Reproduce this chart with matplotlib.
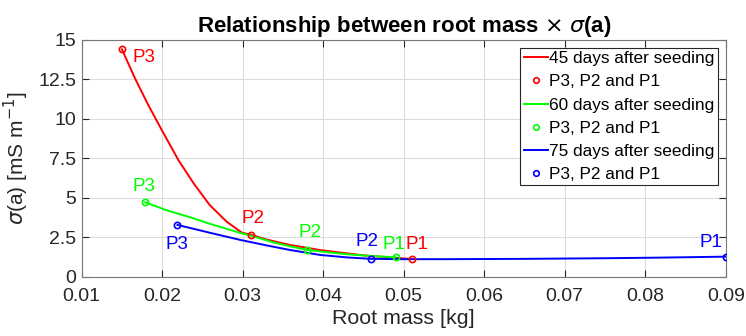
import matplotlib
matplotlib.use("Agg")
import matplotlib.pyplot as plt
from matplotlib.lines import Line2D

plt.rcParams['font.family'] = ['Liberation Sans', 'DejaVu Sans']
plt.rcParams['mathtext.fontset'] = 'dejavusans'

# measured points P3, P2, P1 for each sowing age
red_pts_x = [0.015, 0.031, 0.051]
red_pts_y = [14.41, 2.66, 1.12]
green_pts_x = [0.0179, 0.0380, 0.0490]
green_pts_y = [4.71, 1.70, 1.23]
blue_pts_x = [0.0219, 0.0460, 0.0900]
blue_pts_y = [3.28, 1.13, 1.27]

# fitted curves
red_curve_x = [0.0150, 0.01662, 0.01827, 0.01994, 0.0220, 0.0239, 0.0259, 0.0280,
               0.0299, 0.0310, 0.0330, 0.0359, 0.0396, 0.0450, 0.0510]
red_curve_y = [14.41, 12.57, 10.88, 9.30, 7.40, 5.92, 4.54, 3.49,
               2.79, 2.66, 2.35, 2.01, 1.69, 1.35, 1.12]
green_curve_x = [0.0179, 0.0205, 0.0235, 0.0265, 0.0296, 0.0320, 0.0340, 0.0360,
                 0.0380, 0.0405, 0.0430, 0.0460, 0.0490]
green_curve_y = [4.71, 4.22, 3.76, 3.26, 2.79, 2.45, 2.15, 1.91,
                 1.70, 1.55, 1.42, 1.31, 1.23]
blue_curve_x = [0.0219, 0.0258, 0.0297, 0.0330, 0.0359, 0.0396, 0.0430, 0.0460,
                0.0500, 0.0550, 0.0650, 0.0750, 0.0820, 0.0900]
blue_curve_y = [3.28, 2.80, 2.33, 1.98, 1.69, 1.38, 1.22, 1.13,
                1.11, 1.11, 1.13, 1.17, 1.21, 1.27]

point_names = ['P3', 'P2', 'P1']
red_label_xy = [(0.0163, 13.9), (0.0298, 3.69), (0.0502, 2.01)]
green_label_xy = [(0.0163, 5.72), (0.0369, 2.80), (0.0474, 2.01)]
blue_label_xy = [(0.0204, 2.01), (0.0440, 2.23), (0.0867, 2.17)]

series = [
    ('45 days after seeding', '#ff0000', red_curve_x, red_curve_y, red_pts_x, red_pts_y, red_label_xy),
    ('60 days after seeding', '#00ff00', green_curve_x, green_curve_y, green_pts_x, green_pts_y, green_label_xy),
    ('75 days after seeding', '#0000ff', blue_curve_x, blue_curve_y, blue_pts_x, blue_pts_y, blue_label_xy),
]

fig = plt.figure(figsize=(7.46, 3.36), dpi=100)
ax = fig.add_axes([0.1095, 0.1765, 0.8633, 0.7045])

handles = []
labels = []
for name, col, cx, cy, px, py, lab in series:
    ax.plot(cx, cy, color=col, lw=1.4, zorder=3)
    ax.plot(px, py, 'o', mfc='none', mec=col, ms=4.5, mew=1.2, zorder=4)
    for nm, (tx, ty) in zip(point_names, lab):
        ax.text(tx, ty, nm, color=col, fontsize=13.5, ha='left', va='center', zorder=5)
    handles.append(Line2D([], [], color=col, lw=1.4))
    labels.append(name)
    handles.append(Line2D([], [], ls='none', marker='o', mfc='none', mec=col, ms=4, mew=1.2))
    labels.append('P3, P2 and P1')

ax.set_xlim(0.01, 0.09)
ax.set_ylim(0, 15)
ax.set_xticks([0.01, 0.02, 0.03, 0.04, 0.05, 0.06, 0.07, 0.08, 0.09])
ax.set_xticklabels(['0.01', '0.02', '0.03', '0.04', '0.05', '0.06', '0.07', '0.08', '0.09'])
ax.set_yticks([0, 2.5, 5, 7.5, 10, 12.5, 15])
ax.set_yticklabels(['0', '2.5', '5', '7.5', '10', '12.5', '15'])
ax.grid(True, color='#dcdcdc', lw=0.8)
ax.set_axisbelow(True)
ax.tick_params(direction='in', top=True, right=True, length=5, width=0.8,
               labelsize=14, colors='#262626')
ax.tick_params(axis='x', pad=8)
ax.tick_params(axis='y', pad=4)
for sp in ax.spines.values():
    sp.set_color('#777777')
    sp.set_linewidth(0.8)

ax.set_xlabel('Root mass [kg]', fontsize=15.4, color='#262626', labelpad=3)
ax.set_ylabel(r'$\sigma$(a) [mS m$^{-1}$]', fontsize=15, color='#262626', labelpad=5)
ax.set_title(r'Relationship between root mass $\times$ $\sigma$(a)', fontsize=16,
             fontweight='bold', color='black', pad=6)

leg = ax.legend(handles, labels, loc='upper right', fontsize=12.4, frameon=True,
                fancybox=False, framealpha=1, edgecolor='#262626',
                handlelength=1.4, handletextpad=0.08, labelspacing=0.47,
                borderpad=0.2, borderaxespad=0.45)
leg.get_frame().set_linewidth(0.8)

fig.savefig('out.png', dpi=100)
